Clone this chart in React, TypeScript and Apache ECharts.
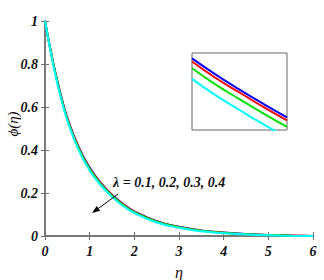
import React, { useEffect, useRef } from "react";
import * as echarts from "echarts";

// main curves: phi(eta) for lambda = 0.1, 0.2, 0.3, 0.4
const eta = [0, 0.1, 0.2, 0.3, 0.4, 0.5, 0.75, 1, 1.25, 1.5, 1.75, 2, 2.5, 3, 3.5, 4, 4.5, 5, 5.5, 6];
const phiL1 = [1, 0.89, 0.79, 0.7, 0.62, 0.55, 0.415, 0.318, 0.247, 0.192, 0.149, 0.115, 0.069, 0.043, 0.026, 0.016, 0.009, 0.005, 0.002, 0];
const phiL2 = [1, 0.889, 0.788, 0.698, 0.617, 0.547, 0.412, 0.315, 0.245, 0.19, 0.147, 0.113, 0.068, 0.042, 0.025, 0.0155, 0.0085, 0.0048, 0.0019, 0];
const phiL3 = [1, 0.888, 0.786, 0.695, 0.614, 0.543, 0.408, 0.311, 0.241, 0.187, 0.144, 0.111, 0.066, 0.041, 0.024, 0.015, 0.008, 0.0045, 0.0017, 0];
const phiL4 = [1, 0.885, 0.78, 0.688, 0.607, 0.537, 0.402, 0.305, 0.236, 0.182, 0.14, 0.107, 0.063, 0.038, 0.022, 0.013, 0.007, 0.003, 0.001, 0];

// inset (zoomed view), relative units
const insetX = [0, 0.25, 0.5, 0.75, 1];
const insetL1 = [0.93, 0.72, 0.525, 0.34, 0.164];
const insetL2 = [0.889, 0.675, 0.487, 0.3, 0.125];
const insetL3 = [0.802, 0.59, 0.4, 0.215, 0.039];
const insetL4 = [0.664, 0.45, 0.26, 0.075, -0.1];

const xTicks = [0, 1, 2, 3, 4, 5, 6];
const yTicks = [0, 0.2, 0.4, 0.6, 0.8, 1];
const colors = ["#0000ff", "#ff0000", "#00e000", "#00ffff"];
const lambdaLabel = "λ = 0.1, 0.2, 0.3, 0.4";
const yName = "ϕ(η)";
const xName = "η";

const FONT = "Liberation Serif";

export default function App() {
  const ref = useRef<HTMLDivElement>(null);
  useEffect(() => {
    if (!ref.current) return;
    const chart = echarts.init(ref.current, null, { renderer: "svg" });
    const axisLine = { show: true, lineStyle: { color: "#707070", width: 1.5 } };
    const tick = { show: true, inside: true, length: 4, lineStyle: { color: "#707070", width: 1 } };
    const labelStyle = { fontFamily: FONT, fontSize: 14, fontWeight: "bold" as const, fontStyle: "italic" as const, color: "#111" };
    const mainSeries = [phiL1, phiL2, phiL3, phiL4].map((arr, i) => ({
      type: "line",
      xAxisIndex: 0,
      yAxisIndex: 0,
      data: eta.map((e, j) => [e, arr[j]]),
      showSymbol: false,
      smooth: true,
      lineStyle: { color: colors[i], width: 2 },
      z: 3 + i,
    }));
    const insetSeries = [insetL1, insetL2, insetL3, insetL4].map((arr, i) => ({
      type: "line",
      xAxisIndex: 2,
      yAxisIndex: 2,
      data: insetX.map((e, j) => [e, arr[j]]),
      showSymbol: false,
      smooth: true,
      clip: true,
      lineStyle: { color: colors[i], width: 2 },
      z: 10,
    }));
    chart.setOption({
      animation: false,
      grid: [
        { left: 45, right: 11, top: 21, bottom: 44, outerBoundsMode: "none", containLabel: false },
        { left: 192, top: 53, width: 95, height: 77, show: true, borderColor: "#666", borderWidth: 1, backgroundColor: "#fff", z: 5, outerBoundsMode: "none", containLabel: false },
      ],
      xAxis: [
        {
          type: "value", gridIndex: 0, min: 0, max: 6, interval: 1,
          axisLine, axisTick: tick, splitLine: { show: false },
          axisLabel: { ...labelStyle, margin: 8, formatter: (v: number) => (xTicks.includes(v) ? String(v) : "") },
          name: xName, nameLocation: "middle", nameGap: 28,
          nameTextStyle: { fontFamily: FONT, fontSize: 16, fontStyle: "italic", color: "#111" },
        },
        {
          type: "value", gridIndex: 0, position: "top", min: 0, max: 6, interval: 1,
          axisLine, axisTick: tick, axisLabel: { show: false }, splitLine: { show: false },
        },
        { type: "value", gridIndex: 1, min: 0, max: 1, show: false },
      ],
      yAxis: [
        {
          type: "value", gridIndex: 0, min: 0, max: 1, interval: 0.2,
          axisLine, axisTick: tick, splitLine: { show: false },
          axisLabel: { ...labelStyle, margin: 7, formatter: (v: number) => (yTicks.some((t) => Math.abs(t - v) < 1e-9) ? String(+v.toFixed(1)) : "") },
        },
        {
          type: "value", gridIndex: 0, position: "right", min: 0, max: 1, interval: 0.2,
          axisLine, axisTick: tick, axisLabel: { show: false }, splitLine: { show: false },
        },
        { type: "value", gridIndex: 1, min: 0, max: 1, show: false },
      ],
      series: [...mainSeries, ...insetSeries],
      graphic: [
        {
          type: "text", x: 13, y: 124, rotation: Math.PI / 2, z: 20,
          style: { text: yName, fontFamily: FONT, fontSize: 15, fontStyle: "italic", fill: "#111", align: "center", verticalAlign: "middle" },
        },
        {
          type: "text", left: 113, top: 175, z: 20,
          style: { text: lambdaLabel, fontFamily: FONT, fontSize: 14, fontWeight: "bold", fontStyle: "italic", fill: "#111" },
        },
        {
          type: "line", z: 20,
          shape: { x1: 118, y1: 194, x2: 98.5, y2: 208.3 },
          style: { stroke: "#000", lineWidth: 1 },
        },
        {
          type: "polygon", z: 20,
          shape: { points: [[92, 213], [96.7, 205.9], [100.2, 210.8]] },
          style: { fill: "#000" },
        },
      ],
    });
    return () => chart.dispose();
  }, []);
  return <div ref={ref} style={{ width: 324, height: 280, position: "absolute", left: 0, top: 0 }} />;
}
